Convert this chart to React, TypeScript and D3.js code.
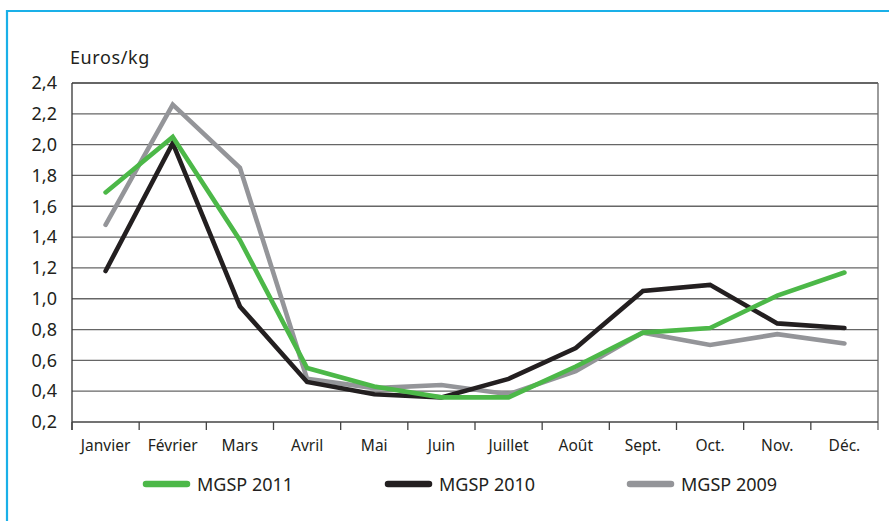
import React from "react";
import * as d3 from "d3";

const months = ["Janvier", "Février", "Mars", "Avril", "Mai", "Juin", "Juillet", "Août", "Sept.", "Oct.", "Nov.", "Déc."];
const mgsp2011 = [1.69, 2.05, 1.38, 0.55, 0.43, 0.36, 0.36, 0.56, 0.78, 0.81, 1.02, 1.17];
const mgsp2010 = [1.18, 2.01, 0.95, 0.46, 0.38, 0.36, 0.48, 0.68, 1.05, 1.09, 0.84, 0.81];
const mgsp2009 = [1.48, 2.26, 1.85, 0.48, 0.42, 0.44, 0.38, 0.53, 0.78, 0.7, 0.77, 0.71];
const yTicks = [0.2, 0.4, 0.6, 0.8, 1.0, 1.2, 1.4, 1.6, 1.8, 2.0, 2.2, 2.4];

const series = [
  { name: "MGSP 2009", values: mgsp2009, color: "#949599" },
  { name: "MGSP 2010", values: mgsp2010, color: "#231f20" },
  { name: "MGSP 2011", values: mgsp2011, color: "#4cb848" },
];
const legendOrder = ["MGSP 2011", "MGSP 2010", "MGSP 2009"];

const W = 889;
const H = 521;
const margin = { top: 83, right: 11, bottom: 99, left: 72 };
const font = "'Noto Sans', 'DejaVu Sans', sans-serif";

export default function App() {
  const x = d3
    .scaleBand<string>()
    .domain(months)
    .range([margin.left, W - margin.right]);
  const y = d3
    .scaleLinear()
    .domain([0.2, 2.4])
    .range([H - margin.bottom, margin.top]);
  const fmt = (v: number) => d3.format(".1f")(v).replace(".", ",");

  const line = d3
    .line<number>()
    .x((_, i) => (x(months[i]) as number) + x.bandwidth() / 2)
    .y((d) => y(d));

  const x0 = margin.left;
  const x1 = W - margin.right;
  const yb = y(0.2);

  return (
    <svg
      width={W}
      height={H}
      style={{ position: "absolute", left: 0, top: 0, background: "#fff" }}
    >
      {/* blue frame */}
      <line x1={7} y1={11} x2={W} y2={11} stroke="#1ab0e8" strokeWidth={2.2} />
      <line x1={7} y1={10} x2={7} y2={H} stroke="#1ab0e8" strokeWidth={2.2} />

      <text x={70} y={64} fontFamily={font} fontSize={18} letterSpacing={0.6} fill="#231f20">
        Euros/kg
      </text>

      {/* grid */}
      {yTicks.map((t) => (
        <g key={t}>
          {t > 0.2 && (
            <line
              x1={x0}
              x2={x1}
              y1={y(t)}
              y2={y(t)}
              stroke={t === 2.4 ? "#333" : "#666"}
              strokeWidth={1.3}
            />
          )}
          <text
            x={57}
            y={y(t)}
            dy="0.35em"
            textAnchor="end"
            fontFamily={font}
            fontSize={18}
            fill="#231f20"
          >
            {fmt(t)}
          </text>
        </g>
      ))}

      {/* axes */}
      <line x1={x0} x2={x0} y1={margin.top} y2={yb + 8} stroke="#333" strokeWidth={1.3} />
      <line x1={x1} x2={x1} y1={margin.top} y2={yb + 8} stroke="#666" strokeWidth={1.3} />
      <line x1={x0} x2={x1} y1={yb} y2={yb} stroke="#444" strokeWidth={1.3} />
      {months.map((m) => (
        <g key={m}>
          <line
            x1={x(m) as number}
            x2={x(m) as number}
            y1={yb}
            y2={yb + 8}
            stroke="#444"
            strokeWidth={1.3}
          />
          <text
            x={(x(m) as number) + x.bandwidth() / 2}
            y={451}
            textAnchor="middle"
            fontFamily={font}
            fontSize={15.5}
            fill="#231f20"
          >
            {m}
          </text>
        </g>
      ))}

      {/* lines */}
      {series.map((s) => (
        <path
          key={s.name}
          d={line(s.values) as string}
          fill="none"
          stroke={s.color}
          strokeWidth={4.6}
          strokeLinecap="round"
          strokeLinejoin="miter"
        />
      ))}

      {/* legend */}
      {legendOrder.map((n, i) => {
        const s = series.find((d) => d.name === n)!;
        const lx = 146 + i * 242;
        return (
          <g key={n}>
            <line
              x1={lx}
              x2={lx + 41}
              y1={484}
              y2={484}
              stroke={s.color}
              strokeWidth={6.5}
              strokeLinecap="round"
            />
            <text x={lx + 51} y={491} fontFamily={font} fontSize={18} fill="#231f20">
              {n}
            </text>
          </g>
        );
      })}
    </svg>
  );
}
